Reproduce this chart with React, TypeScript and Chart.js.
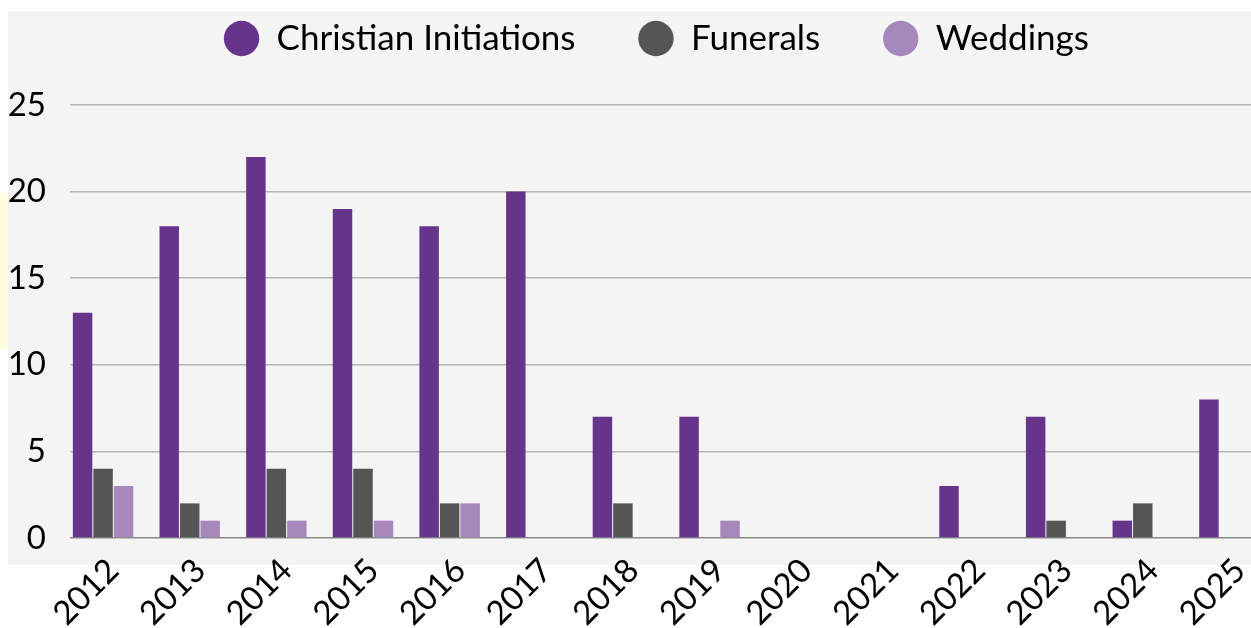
import React, { useEffect, useRef } from 'react';
import { Chart, registerables } from 'chart.js';

Chart.register(...registerables);

const years = ['2012', '2013', '2014', '2015', '2016', '2017', '2018', '2019', '2020', '2021', '2022', '2023', '2024', '2025'];
const christianInitiations = [13, 18, 22, 19, 18, 20, 7, 7, 0, 0, 3, 7, 1, 8];
const funerals = [4, 2, 4, 4, 2, 0, 2, 0, 0, 0, 0, 1, 2, 0];
const weddings = [3, 1, 1, 1, 2, 0, 0, 1, 0, 0, 0, 0, 0, 0];
const emptySlot = [null, null, null, null, null, null, null, null, null, null, null, null, null, null];
const yMin = 0;
const yMax = 25;
const yStep = 5;

const FONT = 'Lato';

export default function App() {
  const canvasRef = useRef<HTMLCanvasElement | null>(null);

  useEffect(() => {
    if (!canvasRef.current) return;
    const chart = new Chart(canvasRef.current, {
      type: 'bar',
      data: {
        labels: years,
        datasets: [
          { label: 'Christian Initiations', data: christianInitiations, backgroundColor: '#66348a' },
          { label: 'Funerals', data: funerals, backgroundColor: '#555555' },
          { label: 'Weddings', data: weddings, backgroundColor: '#a688bc' },
          { label: '', data: emptySlot as any, backgroundColor: 'rgba(0,0,0,0)' },
        ],
      },
      options: {
        animation: false,
        responsive: false,
        layout: { padding: 0 },
        datasets: { bar: { categoryPercentage: 0.946, barPercentage: 0.95 } },
        plugins: {
          legend: {
            position: 'top',
            weight: 3000,
            labels: {
              usePointStyle: true,
              pointStyle: 'circle',
              boxWidth: 40,
              boxHeight: 25,
              padding: 63,
              color: '#000',
              font: { family: FONT, size: 35 },
              filter: (item: any) => item.text !== '',
            },
          } as any,
          title: {
            display: true,
            text: '',
            padding: { top: 0, bottom: 38 },
            font: { size: 1, lineHeight: 1 },
          },
          tooltip: { enabled: false },
        },
        scales: {
          x: {
            grid: { display: false },
            border: { display: false },
            ticks: {
              minRotation: 45,
              maxRotation: 45,
              autoSkip: false,
              padding: 5,
              color: '#000',
              font: { family: FONT, size: 33 },
            },
            afterFit: (s: any) => {
              s.height = 100;
            },
          },
          y: {
            min: yMin,
            max: yMax,
            ticks: {
              stepSize: yStep,
              padding: 24,
              color: '#000',
              font: { family: FONT, size: 33 },
            },
            grid: {
              drawTicks: false,
              lineWidth: 1.5,
              color: (ctx: any) => (ctx.tick && ctx.tick.value === 0 ? '#8a8a8a' : '#b5b5b5'),
            },
            border: { display: false },
            afterFit: (s: any) => {
              s.width = 62;
            },
          },
          yRightSpace: {
            type: 'linear',
            position: 'right',
            display: true,
            grid: { display: false, drawTicks: false },
            border: { display: false },
            ticks: { display: false },
            afterFit: (s: any) => {
              s.width = 22;
            },
          },
        },
      },
    });
    return () => chart.destroy();
  }, []);

  return (
    <div style={{ position: 'fixed', left: 0, top: 0, width: 1251, height: 628, overflow: 'hidden', background: '#fff' }}>
      <div style={{ position: 'absolute', left: 0, top: 193, width: 8, height: 157, background: '#ffffe0' }} />
      <div style={{ position: 'absolute', left: 8, top: 11, width: 1243, height: 554, background: '#f4f4f4' }} />
      <div style={{ position: 'absolute', left: 8, top: -42, width: 1297, height: 680 }}>
        <canvas ref={canvasRef} width={1297} height={680} style={{ display: 'block', width: 1297, height: 680 }} />
      </div>
    </div>
  );
}
